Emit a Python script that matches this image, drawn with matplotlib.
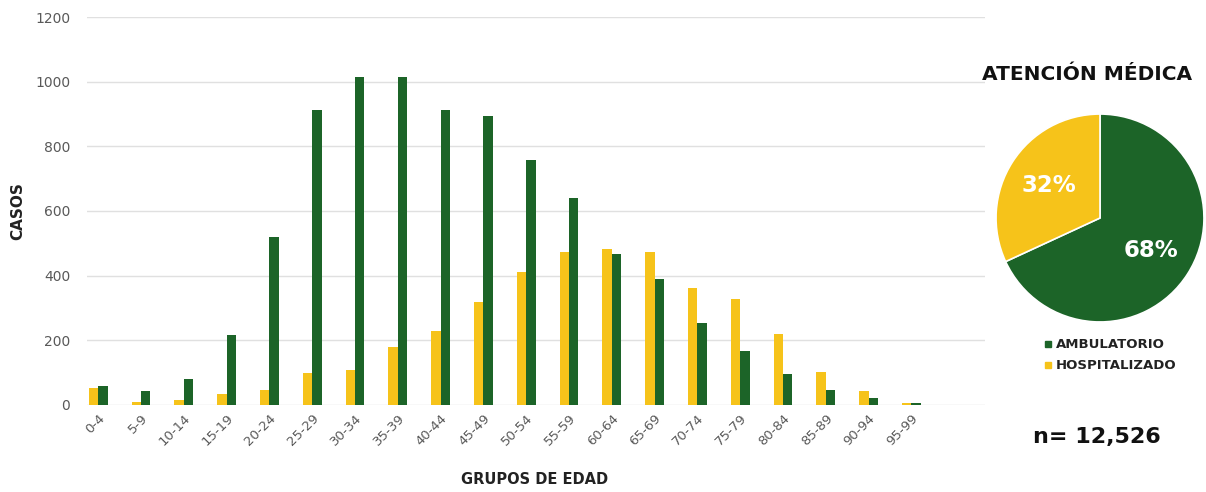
import numpy as np
import matplotlib
matplotlib.use("Agg")
import matplotlib.pyplot as plt
from matplotlib.lines import Line2D

# ---------- data ----------
grupos = ["0-4", "5-9", "10-14", "15-19", "20-24", "25-29", "30-34", "35-39",
          "40-44", "45-49", "50-54", "55-59", "60-64", "65-69", "70-74",
          "75-79", "80-84", "85-89", "90-94", "95-99"]
hospitalizado = [52, 10, 14, 33, 45, 98, 108, 180, 230, 318,
                 410, 472, 483, 472, 362, 329, 219, 101, 44, 6]
ambulatorio = [60, 43, 79, 216, 519, 912, 1015, 1015, 912, 893,
               759, 641, 468, 391, 255, 167, 95, 46, 23, 6]
atencion = ["AMBULATORIO", "HOSPITALIZADO"]
n_total = "n= 12,526"
y_ticks = [0, 200, 400, 600, 800, 1000, 1200]
# ---------------------------

VERDE = "#1c6428"
AMARILLO = "#f6c31a"
GRIS = "#595959"
W, H = 1206, 492

plt.rcParams["font.family"] = ["DejaVu Sans"]

fig = plt.figure(figsize=(W / 100, H / 100), dpi=100)

# ---- bar chart ----
ax = fig.add_axes([87 / W, 87 / H, 898 / W, 388 / H])
x = np.arange(len(grupos))
bw = 0.22
ax.bar(x - bw / 2, hospitalizado, width=bw, color=AMARILLO, zorder=3)
ax.bar(x + bw / 2, ambulatorio, width=bw, color=VERDE, zorder=3)

ax.set_xlim(-0.26, len(grupos) + 0.72)
ax.set_ylim(0, 1200)
ax.set_yticks(y_ticks)
ax.set_yticklabels([str(v) for v in y_ticks], color=GRIS, fontsize=10)
ax.set_xticks(x)
ax.set_xticklabels(grupos, rotation=45, ha="right", rotation_mode="anchor",
                   color=GRIS, fontsize=9.5)
ax.tick_params(axis="both", length=0)
ax.tick_params(axis="y", pad=12)
ax.tick_params(axis="x", pad=5)
ax.grid(axis="y", color="#e0e0e0", linewidth=1, zorder=0)
for s in ax.spines.values():
    s.set_visible(False)

ax.set_ylabel("CASOS", fontsize=11, fontweight="bold", color="#222222")
ax.yaxis.set_label_coords((25 - 87) / 898, 0.5)
fig.text(535 / W, 1 - 480 / H, "GRUPOS DE EDAD", ha="center", va="center",
         fontsize=10.5, fontweight="bold", color="#222222")

# ---- pie chart ----
pax = fig.add_axes([995 / W, (H - 323) / H, 210 / W, 210 / H])
totales = [sum(ambulatorio), sum(hospitalizado)]
wedges, _, autotexts = pax.pie(
    totales, colors=[VERDE, AMARILLO], startangle=90, counterclock=False,
    autopct=lambda p: f"{p:.0f}%", pctdistance=0.58,
    wedgeprops=dict(edgecolor="white", linewidth=1.2),
    textprops=dict(color="white", fontsize=16.5, fontweight="bold"))
pax.set_xlim(-1.01, 1.01)
pax.set_ylim(-1.01, 1.01)
pax.set_aspect("equal")

fig.text(1087 / W, 1 - 75 / H, "ATENCIÓN MÉDICA", ha="center", va="center",
         fontsize=14.5, fontweight="bold", color="#111111")

handles = [Line2D([], [], marker="s", linestyle="", color=c, markersize=4)
           for c in [VERDE, AMARILLO]]
fig.legend(handles, atencion, loc="upper left",
           bbox_to_anchor=(1036 / W, 1 - 333 / H), frameon=False,
           handletextpad=0.1, labelspacing=0.6,
           borderaxespad=0, handlelength=1.0,
           prop=dict(weight="bold", size=9.5))
for t in fig.legends[0].get_texts():
    t.set_color("#222222")

fig.text(1097 / W, 1 - 437 / H, n_total, ha="center", va="center",
         fontsize=16, fontweight="bold", color="#111111")

fig.savefig("out.png", dpi=100)
